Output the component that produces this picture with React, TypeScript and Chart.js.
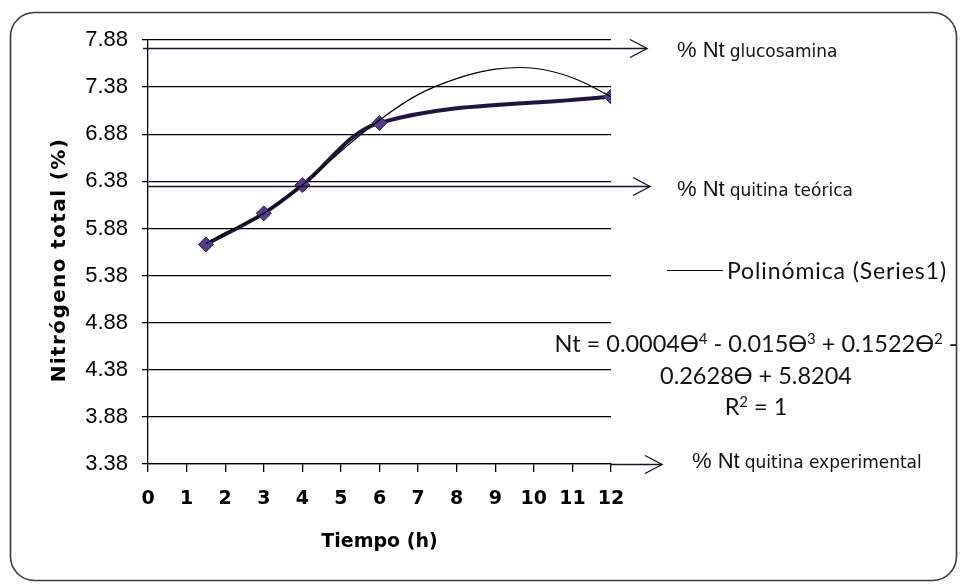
import React, { useEffect, useRef } from "react";
import { Chart, registerables } from "chart.js";

Chart.register(...registerables);

// ---- data ----
const timeHours = [1.5, 3, 4, 6, 12];
const ntPercent = [5.71, 6.04, 6.34, 7.0, 7.28];

const trendTime = [1.5, 2, 3, 4, 5, 6, 7, 8, 9, 10, 11, 12];
const trendNt = [5.72, 5.83, 6.04, 6.34, 6.7, 7.03, 7.3, 7.47, 7.57, 7.58, 7.48, 7.28];

const yTickValues = [3.38, 3.88, 4.38, 4.88, 5.38, 5.88, 6.38, 6.88, 7.38, 7.88];
const xTickValues = [0, 1, 2, 3, 4, 5, 6, 7, 8, 9, 10, 11, 12];

const refValues = [7.8, 6.33, 3.38];
const refNames = ["glucosamina", "quitina teórica", "quitina experimental"];

const yTitle = "Nitrógeno total (%)";
const xTitle = "Tiempo (h)";
const legendText = "Polinómica (Series1)";
const equationLines = [
  "Nt = 0.0004ϴ⁴ - 0.015ϴ³ + 0.1522ϴ² -",
  "0.2628ϴ + 5.8204",
  "R² = 1",
];

// ---- layout constants (pixels) ----
const arrowStartX = [143, 147, null];
const arrowTipX = [647, 650, 662];
const labelX = [677, 677, 692];
const labelDy = [8, 9, 3];

const SUP: Record<string, string> = { "⁴": "4", "³": "3", "²": "2" };

function richRuns(text: string) {
  const runs: { t: string; sup: boolean }[] = [];
  for (const ch of text) {
    const sup = ch in SUP;
    const c = sup ? SUP[ch] : ch;
    const last = runs[runs.length - 1];
    if (last && last.sup === sup) last.t += c;
    else runs.push({ t: c, sup });
  }
  return runs;
}

function drawRich(
  ctx: CanvasRenderingContext2D,
  text: string,
  cx: number,
  y: number,
  baseFont: string,
  supFont: string,
  rise: number
) {
  const runs = richRuns(text);
  let total = 0;
  const widths = runs.map((r) => {
    ctx.font = r.sup ? supFont : baseFont;
    const w = ctx.measureText(r.t).width;
    total += w;
    return w;
  });
  let x = cx - total / 2;
  ctx.textAlign = "left";
  runs.forEach((r, i) => {
    ctx.font = r.sup ? supFont : baseFont;
    ctx.fillText(r.t, x, r.sup ? y - rise : y);
    x += widths[i];
  });
}

const overlayPlugin = {
  id: "overlay",
  afterDraw(chart: any) {
    const ctx = chart.ctx as CanvasRenderingContext2D;
    const area = chart.chartArea;
    const ys = chart.scales.y;
    ctx.save();

    // reference arrows
    ctx.strokeStyle = "#1a1228";
    ctx.lineWidth = 1.4;
    refValues.forEach((v, i) => {
      const yy = Math.round(ys.getPixelForValue(v)) + 0.5;
      const sx = arrowStartX[i] == null ? area.right : (arrowStartX[i] as number);
      const tx = arrowTipX[i];
      ctx.beginPath();
      ctx.moveTo(sx, yy);
      ctx.lineTo(tx, yy);
      ctx.stroke();
      ctx.beginPath();
      ctx.moveTo(tx - 17, yy - 9);
      ctx.lineTo(tx, yy);
      ctx.lineTo(tx - 17, yy + 9);
      ctx.stroke();

      // label
      const base = yy + labelDy[i];
      ctx.fillStyle = "#111";
      ctx.textBaseline = "alphabetic";
      ctx.textAlign = "left";
      ctx.font = '22px "Liberation Sans", Arial, sans-serif';
      const main = "% Nt";
      ctx.fillText(main, labelX[i], base);
      const w = ctx.measureText(main).width;
      ctx.font = '17px "DejaVu Sans", sans-serif';
      ctx.fillText(refNames[i], labelX[i] + w + 5, base);
    });

    // legend for trendline
    ctx.strokeStyle = "#000";
    ctx.lineWidth = 1.2;
    ctx.beginPath();
    ctx.moveTo(667, 270.5);
    ctx.lineTo(723, 270.5);
    ctx.stroke();
    ctx.fillStyle = "#111";
    ctx.font = '23px Lato, "DejaVu Sans", sans-serif';
    ctx.textAlign = "left";
    (ctx as any).letterSpacing = "0.9px";
    ctx.fillText(legendText, 727, 279);
    (ctx as any).letterSpacing = "0px";

    // equation
    const eqY = [352, 384, 415];
    equationLines.forEach((t, i) =>
      drawRich(
        ctx,
        t,
        756,
        eqY[i],
        '23.5px Lato, "DejaVu Sans", sans-serif',
        '15px Lato, "DejaVu Sans", sans-serif',
        8
      )
    );

    // y title
    ctx.save();
    ctx.translate(60, 260);
    ctx.rotate(-Math.PI / 2);
    ctx.textAlign = "center";
    ctx.textBaseline = "middle";
    ctx.font = 'bold 20px "DejaVu Sans", sans-serif';
    (ctx as any).letterSpacing = "1.4px";
    ctx.fillStyle = "#000";
    ctx.fillText(yTitle, 0, 0);
    (ctx as any).letterSpacing = "0px";
    ctx.restore();

    // outer rounded border
    ctx.strokeStyle = "#3a3a3a";
    ctx.lineWidth = 1.6;
    ctx.beginPath();
    ctx.roundRect(10.5, 12.5, 946, 568, 24);
    ctx.stroke();

    ctx.restore();
  },
};

export default function App() {
  const ref = useRef<HTMLCanvasElement | null>(null);

  useEffect(() => {
    const canvas = ref.current;
    if (!canvas) return;
    const chart = new Chart(canvas, {
      type: "line",
      data: {
        datasets: [
          {
            label: "Polinómica (Series1)",
            data: trendTime.map((t, i) => ({ x: t, y: trendNt[i] })),
            borderColor: "#000",
            borderWidth: 1.2,
            pointRadius: 0,
            tension: 0.4,
            fill: false,
          },
          {
            label: "Series1",
            data: timeHours.map((t, i) => ({ x: t, y: ntPercent[i] })),
            borderColor: "#22153d",
            borderWidth: 4,
            pointStyle: "rectRot",
            pointRadius: 7.5,
            pointBackgroundColor: "#523c8a",
            pointBorderColor: "#33245e",
            pointBorderWidth: 1,
            tension: 0.35,
            fill: false,
          },
        ],
      },
      options: {
        animation: false,
        responsive: true,
        maintainAspectRatio: false,
        layout: { padding: { left: 0, top: 40, right: 349, bottom: 0 } },
        plugins: { legend: { display: false }, tooltip: { enabled: false } },
        scales: {
          x: {
            type: "linear",
            min: 0,
            max: 12,
            afterFit: (s: any) => {
              s.height = 122;
            },
            afterBuildTicks: (s: any) => {
              s.ticks = xTickValues.map((v) => ({ value: v }));
            },
            ticks: {
              color: "#000",
              padding: 16,
              font: { family: "DejaVu Sans", size: 19, weight: "bold" },
              callback: (v: any) => String(v),
              maxRotation: 0,
              autoSkip: false,
            },
            grid: {
              drawOnChartArea: false,
              drawTicks: true,
              tickLength: 8,
              color: "#000",
              lineWidth: 1.3,
            },
            border: { display: true, color: "#000", width: 1.3 },
            title: {
              display: true,
              text: xTitle,
              color: "#000",
              font: { family: "DejaVu Sans", size: 19, weight: "bold" },
              padding: { top: 0, bottom: 33 },
            },
          },
          y: {
            type: "linear",
            min: 3.38,
            max: 7.88,
            afterFit: (s: any) => {
              s.width = 148;
            },
            afterBuildTicks: (s: any) => {
              s.ticks = yTickValues.map((v) => ({ value: v }));
            },
            ticks: {
              color: "#000",
              padding: 14,
              font: { family: "Liberation Sans", size: 22 },
              callback: (v: any) => Number(v).toFixed(2),
              autoSkip: false,
            },
            grid: {
              color: "#000",
              lineWidth: 1.3,
              drawTicks: true,
              tickLength: 6,
            },
            border: { display: true, color: "#000", width: 1.3 },
          },
        },
      },
      plugins: [overlayPlugin],
    });
    return () => chart.destroy();
  }, []);

  return (
    <div
      style={{
        position: "fixed",
        left: 0,
        top: 0,
        width: 960,
        height: 586,
        background: "#fff",
      }}
    >
      <canvas ref={ref} />
    </div>
  );
}
